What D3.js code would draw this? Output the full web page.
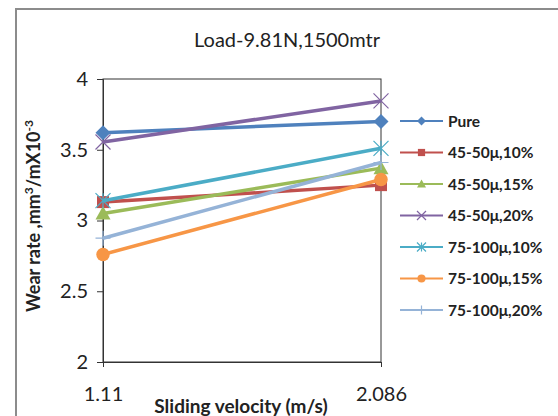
<!DOCTYPE html>
<html>
<head>
<meta charset="utf-8">
<script src="https://cdn.jsdelivr.net/npm/d3@7"></script>
<style>
  body { margin: 0; background: #fff; }
  svg { font-family: Lato, "Open Sans", sans-serif; }
</style>
</head>
<body>
<svg id="canvas" width="558" height="416"></svg>
<script>
// sliding velocity values (m/s)
let velocities = [1.11, 2.086]
let yTicks = [2, 2.5, 3, 3.5, 4]

let seriesNames = ['Pure', '45-50\u03bc,10%', '45-50\u03bc,15%', '45-50\u03bc,20%',
                   '75-100\u03bc,10%', '75-100\u03bc,15%', '75-100\u03bc,20%']
let pure = [3.62, 3.70]
let s4510 = [3.13, 3.25]
let s4515 = [3.05, 3.37]
let s4520 = [3.555, 3.845]
let s7510 = [3.14, 3.51]
let s7515 = [2.76, 3.29]
let s7520 = [2.875, 3.41]
let colors = ['#4F81BD', '#C0504D', '#9BBB59', '#8064A2', '#4BACC6', '#F79646', '#95B3D7']
let markers = ['diamond', 'square', 'triangle', 'x', 'star', 'circle', 'plus']

let allValues = [pure, s4510, s4515, s4520, s7510, s7515, s7520]

let svg = d3.select('#canvas')

let plotLeft = 103, plotRight = 381, plotTop = 79, plotBottom = 362

let x = d3.scaleLinear().domain([1.11, 2.086]).range([plotLeft, plotRight])
let y = d3.scaleLinear().domain([2, 4]).range([plotBottom, plotTop])

// outer chart border
svg.append('rect')
    .attr('x', 16).attr('y', 9).attr('width', 600).attr('height', 500)
    .attr('fill', 'none').attr('stroke', '#8c8c8c').attr('stroke-width', 2)

// title
svg.append('text')
    .attr('x', 287).attr('y', 47)
    .attr('text-anchor', 'middle')
    .style('font-size', '20px')
    .attr('fill', '#222')
    .text('Load-9.81N,1500mtr')

// plot box
svg.append('rect')
    .attr('x', plotLeft).attr('y', plotTop)
    .attr('width', plotRight - plotLeft).attr('height', plotBottom - plotTop)
    .attr('fill', 'none').attr('stroke', '#333').attr('stroke-width', 1)

// y axis
let yAxis = d3.axisLeft(y).tickValues(yTicks).tickSize(6).tickPadding(9)
    .tickFormat(d3.format('~g'))
let gy = svg.append('g').attr('transform', 'translate(' + plotLeft + ',0)').call(yAxis)
gy.select('.domain').attr('stroke', '#333')
gy.selectAll('.tick line').attr('stroke', '#333')
gy.selectAll('text').style('font-size', '20px').attr('fill', '#222')
    .style('font-family', 'Lato, sans-serif')

// x axis
let xAxis = d3.axisBottom(x).tickValues(velocities).tickSize(5).tickPadding(20)
    .tickFormat(d => String(d))
let gx = svg.append('g').attr('transform', 'translate(0,' + plotBottom + ')').call(xAxis)
gx.select('.domain').attr('stroke', '#333')
gx.selectAll('.tick line').attr('stroke', '#333')
gx.selectAll('text').style('font-size', '20px').attr('fill', '#222')
    .style('font-family', 'Lato, sans-serif')

// axis titles
svg.append('text')
    .attr('x', 241).attr('y', 413)
    .attr('text-anchor', 'middle')
    .style('font-size', '19px').style('font-weight', 'bold')
    .attr('fill', '#222')
    .text('Sliding velocity (m/s)')

let yt = svg.append('text')
    .attr('transform', 'translate(40,216) rotate(-90)')
    .attr('text-anchor', 'middle')
    .style('font-size', '18px').style('font-weight', 'bold')
    .attr('fill', '#222')
yt.append('tspan').text('Wear rate ,mm')
yt.append('tspan').attr('dy', -7).style('font-size', '12px').text('3')
yt.append('tspan').attr('dy', 7).text('/mX10')
yt.append('tspan').attr('dy', -7).style('font-size', '12px').text('-3')

let drawMarker = (g, type, cx, cy, color, s) => {
    if (type === 'diamond') {
        g.append('path').attr('d', `M${cx},${cy - s}L${cx + s},${cy}L${cx},${cy + s}L${cx - s},${cy}Z`)
            .attr('fill', color)
    } else if (type === 'square') {
        g.append('rect').attr('x', cx - s * 0.8).attr('y', cy - s * 0.8)
            .attr('width', s * 1.6).attr('height', s * 1.6).attr('fill', color)
    } else if (type === 'triangle') {
        g.append('path').attr('d', `M${cx},${cy - s}L${cx + s},${cy + s * 0.8}L${cx - s},${cy + s * 0.8}Z`)
            .attr('fill', color)
    } else if (type === 'x') {
        g.append('path').attr('d', `M${cx - s},${cy - s}L${cx + s},${cy + s}M${cx - s},${cy + s}L${cx + s},${cy - s}`)
            .attr('stroke', color).attr('stroke-width', 1.2).attr('fill', 'none')
    } else if (type === 'star') {
        g.append('path').attr('d', `M${cx - s},${cy - s}L${cx + s},${cy + s}M${cx - s},${cy + s}L${cx + s},${cy - s}M${cx},${cy - s}L${cx},${cy + s}`)
            .attr('stroke', color).attr('stroke-width', 1.2).attr('fill', 'none')
    } else if (type === 'circle') {
        g.append('circle').attr('cx', cx).attr('cy', cy).attr('r', s * 0.9).attr('fill', color)
    } else if (type === 'plus') {
        g.append('path').attr('d', `M${cx - s},${cy}L${cx + s},${cy}M${cx},${cy - s}L${cx},${cy + s}`)
            .attr('stroke', color).attr('stroke-width', 1.2).attr('fill', 'none')
    }
}

let line = d3.line().x((d, i) => x(velocities[i])).y(d => y(d))

allValues.forEach((vals, k) => {
    let g = svg.append('g')
    g.append('path')
        .datum(vals)
        .attr('d', line)
        .attr('fill', 'none')
        .attr('stroke', colors[k])
        .attr('stroke-width', 3.5)
    vals.forEach((v, i) => {
        drawMarker(g, markers[k], x(velocities[i]), y(v), colors[k], 7.5)
    })
})

// legend
let legend = svg.append('g')
seriesNames.forEach((name, k) => {
    let ly = 121 + k * 31.5
    legend.append('line')
        .attr('x1', 400).attr('x2', 443).attr('y1', ly).attr('y2', ly)
        .attr('stroke', colors[k]).attr('stroke-width', 2)
    drawMarker(legend, markers[k], 421.5, ly, colors[k], 4.5)
    legend.append('text')
        .attr('x', 448).attr('y', ly + 5.5)
        .style('font-size', '15.5px').style('font-weight', 'bold')
        .attr('fill', '#222')
        .text(name)
})
</script>
</body>
</html>
